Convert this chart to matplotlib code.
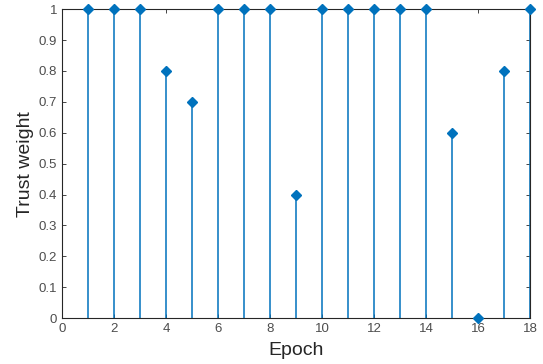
import matplotlib
matplotlib.use('Agg')
from matplotlib import pyplot as plt

plt.rcParams['font.family'] = ['Liberation Sans', 'DejaVu Sans']

# trust weight per epoch
epochs = list(range(1, 19))
weights = [1, 1, 1, 0.8, 0.7, 1, 1, 1, 0.4, 1, 1, 1, 1, 1, 0.6, 0, 0.8, 1]
xticks = list(range(0, 19, 2))
yticks = [i / 10 for i in range(11)]

blue = '#0072BD'

fig = plt.figure(figsize=(5.43, 3.64), dpi=100)
ax = fig.add_axes([0.114, 0.126, 0.862, 0.849])

markerline, stemlines, baseline = ax.stem(epochs, weights, basefmt=' ')
plt.setp(stemlines, color=blue, linewidth=1.1)
plt.setp(markerline, color=blue, marker='D', markersize=5.5, clip_on=False, zorder=5)

ax.set_xlim(0, 18)
ax.set_ylim(0, 1)
ax.set_xticks(xticks)
ax.set_yticks(yticks)
ax.set_yticklabels(['0', '0.1', '0.2', '0.3', '0.4', '0.5', '0.6', '0.7', '0.8', '0.9', '1'])
ax.tick_params(direction='in', length=3, width=0.6, colors='#262626',
               labelsize=9.5, labelcolor='#4d4d4d', top=True, right=True)
for s in ax.spines.values():
    s.set_linewidth(0.8)
    s.set_color('#262626')

ax.set_xlabel('Epoch', fontsize=14, color='#262626', labelpad=5)
ax.set_ylabel('Trust weight', fontsize=14, color='#262626', labelpad=3)

fig.savefig('out.png', dpi=100)
